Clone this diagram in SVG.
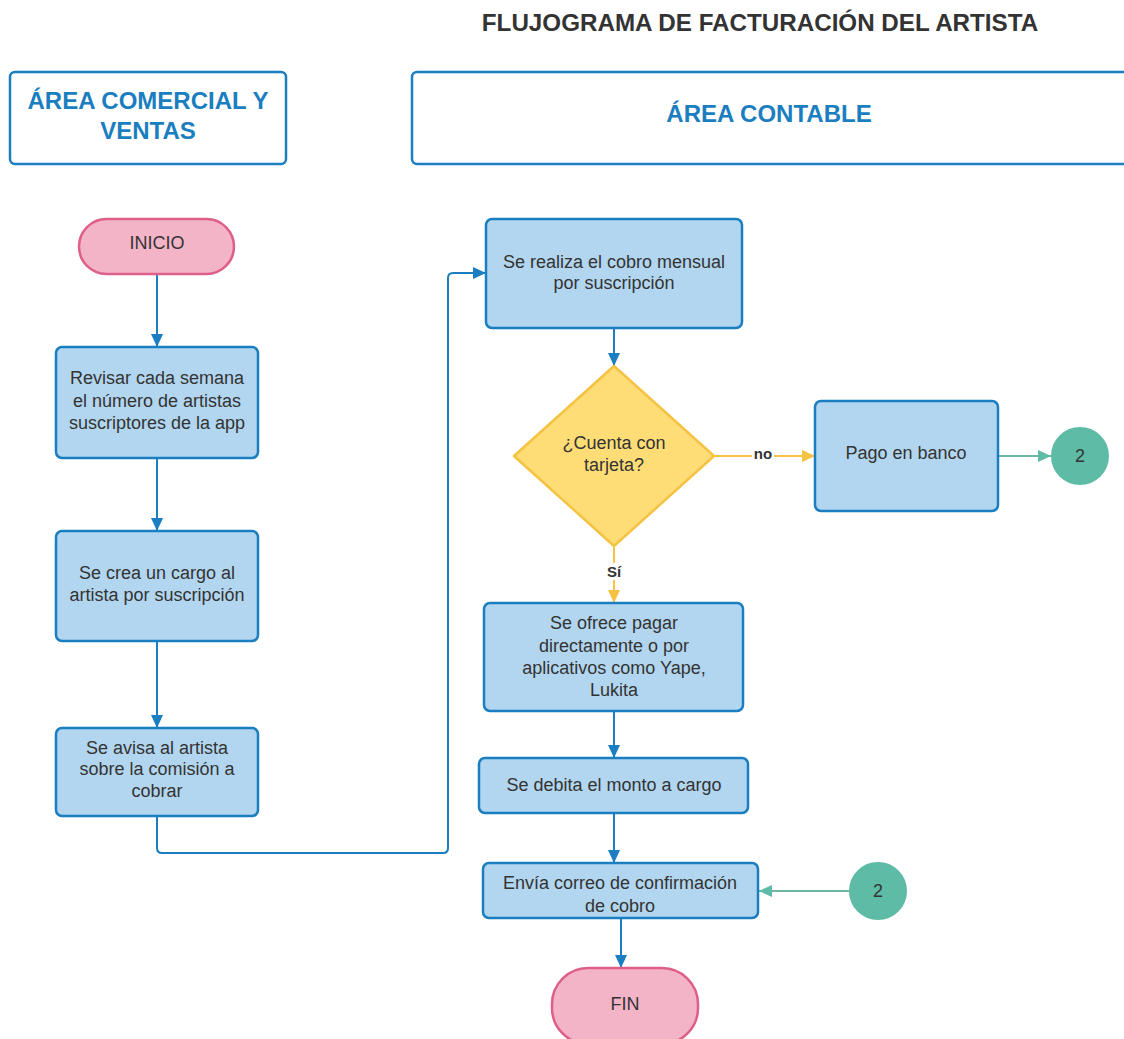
<svg xmlns="http://www.w3.org/2000/svg" width="1124" height="1039" viewBox="0 0 1124 1039">
  <style>
    .title { font-family: "Liberation Sans", Arial, sans-serif; font-weight: bold; font-size: 24.2px; fill: #333333; text-anchor: middle; }
    .lane { fill: #ffffff; stroke: #1a7ec0; stroke-width: 2.5; }
    .lane-text { font-family: "Liberation Sans", Arial, sans-serif; font-weight: bold; font-size: 24px; fill: #1a7ec0; text-anchor: middle; }
    .proc { fill: #b2d6ef; stroke: #1a7ec0; stroke-width: 2.5; }
    .term { fill: #f4b4c8; stroke: #de5f88; stroke-width: 2.5; }
    .dec { fill: #fedd76; stroke: #f5c242; stroke-width: 2.5; }
    .conn { fill: #5dbba6; stroke: #5dbba6; stroke-width: 2; }
    .t { font-family: "Liberation Sans", Arial, sans-serif; font-size: 18px; fill: #333333; text-anchor: middle; }
    .lbl { font-family: "Liberation Sans", Arial, sans-serif; font-weight: bold; font-size: 15px; fill: #333333; text-anchor: middle; }
    .edge-blue { fill: none; stroke: #1a7ec0; stroke-width: 2; }
    .edge-yellow { fill: none; stroke: #f5c242; stroke-width: 2; }
    .edge-teal { fill: none; stroke: #6fb5a5; stroke-width: 2; }
  </style>
  <defs>
    <marker id="ah-blue" markerUnits="userSpaceOnUse" markerWidth="14" markerHeight="12" refX="13" refY="6" orient="auto">
      <path d="M0,0 L13,6 L0,12 Z" fill="#1a7ec0"/>
    </marker>
    <marker id="ah-yellow" markerUnits="userSpaceOnUse" markerWidth="14" markerHeight="12" refX="13" refY="6" orient="auto">
      <path d="M0,0 L13,6 L0,12 Z" fill="#f5c242"/>
    </marker>
    <marker id="ah-teal" markerUnits="userSpaceOnUse" markerWidth="14" markerHeight="12" refX="13" refY="6" orient="auto">
      <path d="M0,0 L13,6 L0,12 Z" fill="#5dbba6"/>
    </marker>
  </defs>

  <rect width="1124" height="1039" fill="#ffffff"/>

  <text class="title" x="760" y="31">FLUJOGRAMA DE FACTURACIÓN DEL ARTISTA</text>

  <!-- swimlane headers -->
  <g id="lane-comercial">
    <rect class="lane" x="10" y="72" width="276" height="92" rx="5"/>
    <text class="lane-text" x="148" y="109">ÁREA COMERCIAL Y</text>
    <text class="lane-text" x="148" y="139">VENTAS</text>
  </g>
  <g id="lane-contable">
    <rect class="lane" x="412" y="72" width="730" height="92" rx="5"/>
    <text class="lane-text" x="769" y="122">ÁREA CONTABLE</text>
  </g>

  <!-- connectors -->
  <g id="connectors">
    <path class="edge-blue" d="M157,274 L157,347" marker-end="url(#ah-blue)"/>
    <path class="edge-blue" d="M157,458 L157,531" marker-end="url(#ah-blue)"/>
    <path class="edge-blue" d="M157,641 L157,728" marker-end="url(#ah-blue)"/>
    <path class="edge-blue" d="M157,816 L157,848 Q157,853 162,853 L443,853 Q448,853 448,848 L448,278 Q448,273 453,273 L486,273" marker-end="url(#ah-blue)"/>
    <path class="edge-blue" d="M614,328 L614,366" marker-end="url(#ah-blue)"/>
    <path class="edge-yellow" d="M714,456 L815,456" marker-end="url(#ah-yellow)"/>
    <rect x="752" y="446" width="22" height="16" fill="#ffffff"/>
    <text class="lbl" x="763" y="459">no</text>
    <path class="edge-yellow" d="M614,546 L614,603" marker-end="url(#ah-yellow)"/>
    <rect x="603" y="563" width="22" height="17" fill="#ffffff"/>
    <text class="lbl" x="614" y="577">Sí</text>
    <path class="edge-teal" d="M998,456 L1051,456" marker-end="url(#ah-teal)"/>
    <path class="edge-blue" d="M614,711 L614,758" marker-end="url(#ah-blue)"/>
    <path class="edge-blue" d="M614,813 L614,863" marker-end="url(#ah-blue)"/>
    <path class="edge-teal" d="M849,891 L759,891" marker-end="url(#ah-teal)"/>
    <path class="edge-blue" d="M621,918 L621,968" marker-end="url(#ah-blue)"/>
  </g>

  <!-- nodes -->
  <g id="inicio">
    <rect class="term" x="79" y="219" width="155" height="55" rx="27.5"/>
    <text class="t" x="157" y="249">INICIO</text>
  </g>
  <g id="revisar">
    <rect class="proc" x="56" y="347" width="202" height="111" rx="6"/>
    <text class="t" x="157" y="384">Revisar cada semana</text>
    <text class="t" x="157" y="407">el número de artistas</text>
    <text class="t" x="157" y="429">suscriptores de la app</text>
  </g>
  <g id="crear-cargo">
    <rect class="proc" x="56" y="531" width="202" height="110" rx="6"/>
    <text class="t" x="157" y="579">Se crea un cargo al</text>
    <text class="t" x="157" y="601">artista por suscripción</text>
  </g>
  <g id="avisar">
    <rect class="proc" x="56" y="728" width="202" height="88" rx="6"/>
    <text class="t" x="157" y="754">Se avisa al artista</text>
    <text class="t" x="157" y="775">sobre la comisión a</text>
    <text class="t" x="157" y="797">cobrar</text>
  </g>
  <g id="cobro-mensual">
    <rect class="proc" x="486" y="219" width="256" height="109" rx="6"/>
    <text class="t" x="614" y="268">Se realiza el cobro mensual</text>
    <text class="t" x="614" y="289">por suscripción</text>
  </g>
  <g id="cuenta-tarjeta">
    <path class="dec" d="M614,366 L714,456 L614,546 L514,456 Z" stroke-linejoin="round"/>
    <text class="t" x="614" y="449">¿Cuenta con</text>
    <text class="t" x="614" y="471">tarjeta?</text>
  </g>
  <g id="pago-banco">
    <rect class="proc" x="815" y="401" width="183" height="110" rx="6"/>
    <text class="t" x="906" y="459">Pago en banco</text>
  </g>
  <g id="conector-salida">
    <circle class="conn" cx="1080" cy="456" r="28"/>
    <text class="t" x="1080" y="462">2</text>
  </g>
  <g id="ofrecer-pago">
    <rect class="proc" x="484" y="603" width="259" height="108" rx="6"/>
    <text class="t" x="614" y="629">Se ofrece pagar</text>
    <text class="t" x="614" y="652">directamente o por</text>
    <text class="t" x="614" y="674">aplicativos como Yape,</text>
    <text class="t" x="614" y="696">Lukita</text>
  </g>
  <g id="debitar">
    <rect class="proc" x="479" y="758" width="269" height="55" rx="6"/>
    <text class="t" x="614" y="791">Se debita el monto a cargo</text>
  </g>
  <g id="enviar-correo">
    <rect class="proc" x="483" y="863" width="275" height="55" rx="6"/>
    <text class="t" x="620" y="889">Envía correo de confirmación</text>
    <text class="t" x="620" y="912">de cobro</text>
  </g>
  <g id="conector-entrada">
    <circle class="conn" cx="878" cy="891" r="28"/>
    <text class="t" x="878" y="897">2</text>
  </g>
  <g id="fin">
    <rect class="term" x="552" y="968" width="146" height="76" rx="36"/>
    <text class="t" x="625" y="1010">FIN</text>
  </g>
</svg>
